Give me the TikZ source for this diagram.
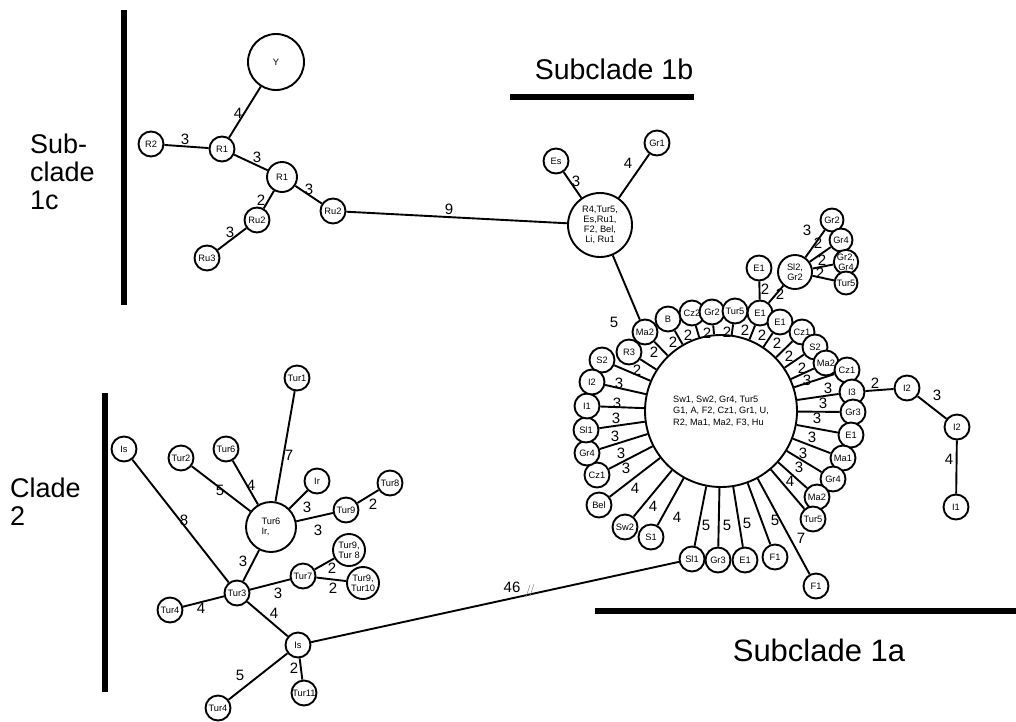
\documentclass[tikz,border=0pt]{standalone}
\usepackage{fontspec}
\setmainfont{Liberation Sans}
\begin{document}
\begin{tikzpicture}[x=1pt,y=-1pt,
  n/.style={circle,draw,line width=1.9pt,minimum size=25pt,inner sep=0pt,fill=white,font=\fontsize{9.3}{9.8}\selectfont,align=center},
  lbl/.style={font=\fontsize{15}{15}\selectfont,inner sep=0pt},
  e/.style={line width=1.9pt},
  bar/.style={line width=6pt},
  title/.style={font=\fontsize{27}{28}\selectfont,inner sep=0pt}]
\useasboundingbox (0,0) rectangle (1016,721);
\newcommand{\cn}[4]{\draw[e] (#1) -- (#2) node[lbl] at (#3) {#4};}
% bars and titles
\draw[bar] (124,10) -- (124,305);
\draw[bar] (105,393) -- (105,692);
\draw[bar] (510,97) -- (694,97);
\draw[bar] (595,611) -- (1016,611);
\node[title,font=\fontsize{28.5}{30}\selectfont] (t1b) at (614,69) {Subclade 1b};
\node[title,font=\fontsize{31}{32}\selectfont] (t1a) at (819,650) {Subclade 1a};
\node[title,align=left,anchor=west] (t1c) at (30,172) {Sub-\\clade\\1c};
\node[title,align=left,anchor=west] (t2) at (10,502) {Clade\\2};
% subclade 1c
\node[n,minimum size=56pt] (Y) at (276,62) {Y};
\node[n] (R1a) at (222,149) {R1};
\node[n] (R2) at (151,144) {R2};
\node[n,minimum size=30pt] (R1b) at (282,177) {R1};
\node[n] (Ru2a) at (257,220) {Ru2};
\node[n] (Ru3) at (207,258) {Ru3};
\node[n] (Ru2b) at (333,211) {Ru2};
% upper hub
\node[n,minimum size=64pt] (H1) at (600,225) {R4,Tur5,\\Es,Ru1,\\F2, Bel,\\Li, Ru1};
\node[n] (Es) at (556,161) {Es};
\node[n] (Gr1) at (657,143) {Gr1};
% main hub
\node[n,minimum size=152pt,font=\fontsize{9.2}{11.5}\selectfont,align=left] (H2) at (721,411) {Sw1, Sw2, Gr4, Tur5\\G1, A, F2, Cz1, Gr1, U,\\R2, Ma1, Ma2, F3, Hu};
\node[n] (S2l) at (602,360) {S2};
\node[n] (R3) at (629,352) {R3};
\node[n] (Ma2t) at (645,332) {Ma2};
\node[n] (B) at (668,319) {B};
\node[n] (Cz2) at (692,313) {Cz2};
\node[n] (Gr2) at (712,312) {Gr2};
\node[n] (Tur5) at (735,311) {Tur5};
\node[n] (E1a) at (760,313) {E1};
\node[n] (E1b) at (780,322) {E1};
\node[n] (Cz1a) at (802,332) {Cz1};
\node[n] (S2r) at (815,347) {S2};
\node[n] (Ma2r) at (826,363) {Ma2};
\node[n] (Cz1b) at (847,370) {Cz1};
\node[n] (I3) at (852,392) {I3};
\node[n] (Gr3r) at (853,412) {Gr3};
\node[n] (E1c) at (851,435) {E1};
\node[n] (Ma1) at (843,458) {Ma1};
\node[n] (Gr4r) at (833,479) {Gr4};
\node[n] (Ma2b) at (817,497) {Ma2};
\node[n] (Tur5b) at (813,519) {Tur5};
\node[n] (F1far) at (816,586) {F1};
\node[n] (F1) at (775,557) {F1};
\node[n] (E1d) at (745,560) {E1};
\node[n] (Gr3b) at (718,560) {Gr3};
\node[n] (Sl1b) at (692,559) {Sl1};
\node[n] (S1) at (651,537) {S1};
\node[n] (Sw2) at (625,527) {Sw2};
\node[n] (Bel) at (599,505) {Bel};
\node[n] (Cz1l) at (597,475) {Cz1};
\node[n] (Gr4l) at (587,453) {Gr4};
\node[n] (Sl1l) at (586,430) {Sl1};
\node[n] (I1) at (587,406) {I1};
\node[n] (I2) at (592,382) {I2};
% satellites
\node[n] (E1top) at (759,268) {E1};
\node[n,minimum size=34pt] (SG) at (795,272) {Sl2,\\Gr2};
\node[n,minimum size=23pt] (Gr2s) at (832,220) {Gr2};
\node[n,minimum size=23pt] (Gr4s) at (841,240) {Gr4};
\node[n,minimum size=23pt] (GG) at (846,262) {Gr2,\\Gr4};
\node[n,minimum size=23pt] (Tur5s) at (846,283) {Tur5};
\node[n] (I2a) at (907,388) {I2};
\node[n] (I2b) at (957,427) {I2};
\node[n] (I1b) at (956,507) {I1};
% clade 2
\node[n] (Is1) at (124,449) {Is};
\node[n] (Tur2) at (181,458) {Tur2};
\node[n] (Tur6s) at (226,449) {Tur6};
\node[n] (Tur1) at (297,378) {Tur1};
\node[n] (Ir) at (317,481) {Ir};
\node[n,minimum size=50pt,align=left] (T6) at (271,527) {Tur6\\Ir,};
\node[n] (Tur9a) at (346,510) {Tur9};
\node[n] (Tur8) at (390,483) {Tur8};
\node[n,minimum size=32pt] (T98) at (349,550) {Tur9,\\Tur 8};
\node[n] (Tur7) at (303,576) {Tur7};
\node[n,minimum size=32pt] (T910) at (363,583) {Tur9,\\Tur10};
\node[n] (Tur3) at (237,593) {Tur3};
\node[n] (Tur4a) at (170,610) {Tur4};
\node[n] (Is2) at (298,645) {Is};
\node[n] (Tur11) at (304,693) {Tur11};
\node[n] (Tur4b) at (218,708) {Tur4};
% edges subclade 1c
\cn{Y}{R1a}{238,113}{4}
\cn{R2}{R1a}{185,139}{3}
\cn{R1a}{R1b}{257,157}{3}
\cn{R1b}{Ru2a}{261,200}{2}
\cn{Ru2a}{Ru3}{230,232}{3}
\cn{R1b}{Ru2b}{309,189}{3}
\cn{Ru2b}{H1}{449,209}{9}
\cn{Es}{H1}{576,181}{3}
\cn{Gr1}{H1}{628,163}{4}
\cn{H1}{Ma2t}{614,322}{5}
% spokes of main hub
\cn{H2}{S2l}{619,383}{3}
\cn{H2}{R3}{637,370}{2}
\cn{H2}{Ma2t}{654,352}{2}
\cn{H2}{B}{673,342}{2}
\cn{H2}{Cz2}{688,335}{2}
\cn{H2}{Gr2}{707,333}{2}
\cn{H2}{Tur5}{727,332}{2}
\cn{H2}{E1a}{745,330}{2}
\cn{H2}{E1b}{762,335}{2}
\cn{H2}{Cz1a}{777,343}{2}
\cn{H2}{S2r}{789,356}{2}
\cn{H2}{Ma2r}{802,368}{2}
\cn{H2}{Cz1b}{807,380}{3}
\cn{H2}{I3}{828,388}{3}
\cn{H2}{Gr3r}{823,403}{3}
\cn{H2}{E1c}{817,418}{3}
\cn{H2}{Ma1}{812,437}{3}
\cn{H2}{Gr4r}{803,453}{3}
\cn{H2}{Ma2b}{799,467}{3}
\cn{H2}{Tur5b}{790,481}{4}
\cn{H2}{F1far}{801,538}{7}
\cn{H2}{F1}{775,520}{5}
\cn{H2}{E1d}{747,523}{5}
\cn{H2}{Gr3b}{727,525}{5}
\cn{H2}{Sl1b}{706,525}{5}
\cn{H2}{S1}{677,517}{4}
\cn{H2}{Sw2}{653,506}{4}
\cn{H2}{Bel}{635,488}{4}
\cn{H2}{Cz1l}{626,468}{3}
\cn{H2}{Gr4l}{621,453}{3}
\cn{H2}{Sl1l}{615,436}{3}
\cn{H2}{I1}{616,418}{3}
\cn{H2}{I2}{617,403}{3}
% satellites
\cn{E1top}{E1a}{765,289}{2}
\cn{SG}{E1a}{780,294}{2}
\cn{SG}{Gr2s}{807,230}{3}
\cn{SG}{Gr4s}{818,243}{2}
\cn{SG}{GG}{822,260}{2}
\cn{SG}{Tur5s}{820,273}{2}
\cn{I3}{I2a}{875,383}{2}
\cn{I2a}{I2b}{937,395}{3}
\cn{I2b}{I1b}{949,459}{4}
% clade 2
\cn{Is1}{Tur3}{184,520}{8}
\cn{Tur2}{T6}{220,490}{5}
\cn{Tur6s}{T6}{251,485}{4}
\cn{Tur1}{T6}{289,455}{7}
\cn{Ir}{T6}{307,507}{3}
\cn{T6}{Tur9a}{318,530}{3}
\cn{Tur9a}{Tur8}{373,504}{2}
\cn{T6}{Tur3}{243,561}{3}
\cn{Tur3}{Tur7}{278,593}{3}
\cn{Tur7}{T98}{332,568}{2}
\cn{Tur7}{T910}{333,588}{2}
\cn{Tur3}{Tur4a}{201,608}{4}
\cn{Tur3}{Is2}{274,613}{4}
\cn{Is2}{Tur4b}{240,675}{5}
\cn{Is2}{Tur11}{294,668}{2}
\cn{Is2}{Sl1b}{512,587}{46}
\draw[gray,line width=0.5pt] (526,597) -- (530,585) (530,596) -- (534,584);
\end{tikzpicture}
\end{document}
